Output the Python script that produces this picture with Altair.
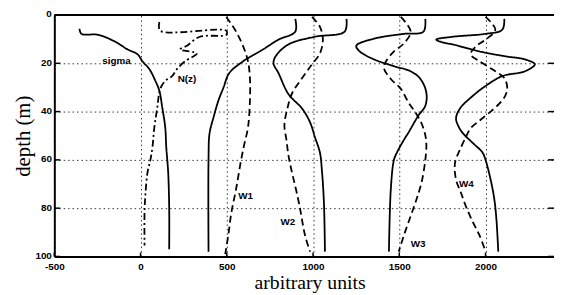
import altair as alt
import pandas as pd

# ---------------- data ----------------
sigma_x = [-354, -343, -246, -149, -74, -17, 11, 51, 86, 109, 126, 143, 149, 160, 166, 166]
sigma_d = [5.7, 7.8, 8.2, 11.0, 14.3, 16.3, 19.2, 22.4, 27.3, 31.4, 38.4, 46.5, 54.7, 65, 80, 97]

nz_x = [109, 114, 497, 497, 343, 269, 229, 326, 257, 211, 183, 143, 114, 97, 80, 69, 57, 40, 29, 23, 23]
nz_d = [2.9, 6.5, 6.5, 8.2, 9.0, 12.7, 14.3, 15.9, 19.2, 22.4, 25.3, 27.3, 30.6, 38.4, 46.5, 54.7, 60, 65.3, 73.5, 81.6, 95.5]

w1s_x = [897, 897, 800, 709, 594, 514, 480, 451, 423, 400, 394, 394]
w1s_d = [1.6, 6.9, 10.2, 14.3, 19.2, 24.1, 30.2, 35.5, 42.4, 49, 60, 98]
w1d_x = [497, 554, 600, 623, 634, 634, 623, 600, 583, 554, 526, 509, 491]
w1d_d = [0.8, 6.9, 13.9, 19.2, 26, 35.5, 46.5, 54, 60, 72, 82, 91, 99]

w2s_x = [1194, 1183, 1011, 857, 783, 771, 800, 857, 937, 983, 1011, 1040, 1051, 1063, 1069]
w2s_d = [1.6, 6.9, 9, 12.2, 17.1, 20, 24.1, 32.7, 38.8, 44.5, 50.6, 57, 64, 77.6, 98]
w2d_x = [994, 1040, 1057, 1040, 994, 937, 880, 851, 834, 846, 857, 874, 897, 920, 954, 983]
w2d_d = [0.8, 4.9, 10.2, 15.9, 20.4, 26.1, 32.2, 38.8, 45.7, 51.8, 58, 64, 71, 78.4, 91.4, 98]

w3s_x = [1651, 1640, 1526, 1354, 1251, 1269, 1354, 1469, 1566, 1623, 1657, 1651, 1611, 1554, 1526, 1486, 1469, 1451, 1440]
w3s_d = [1.6, 6.9, 7.8, 9.8, 12.7, 15, 18.4, 21.2, 23.3, 26.5, 32.2, 37.6, 41.6, 48.6, 51.8, 57, 60, 72, 98]
w3d_x = [1509, 1566, 1526, 1469, 1423, 1411, 1451, 1509, 1554, 1594, 1629, 1651, 1657, 1651, 1629, 1600, 1566, 1526, 1497]
w3d_d = [0.8, 6.9, 11.8, 15.1, 19.2, 22, 26.5, 30.6, 36.3, 40.4, 44.9, 49.8, 53.9, 60, 69.4, 76.3, 83.3, 91.4, 98]

w4s_x = [2109, 2097, 2000, 1811, 1714, 1754, 1811, 1966, 2114, 2229, 2286, 2229, 2097, 2000, 1926, 1851, 1829,
         1846, 1869, 1926, 1983, 2000, 2029, 2051, 2063, 2074]
w4s_d = [1.6, 6.1, 7.8, 9, 10.2, 11.4, 12.2, 15.1, 17.1, 18.4, 20.4, 23.3, 25.3, 29.4, 33.5, 38.8, 42.9,
         46.5, 49, 53, 57, 60, 68, 76.3, 84.5, 98]
w4d_x = [2000, 2057, 2000, 1943, 1914, 1966, 2057, 2109, 2126, 2114, 2080, 2023, 1966, 1914, 1886, 1851, 1823,
         1829, 1857, 1886, 1926, 1966, 1994]
w4d_d = [0.8, 6.1, 10.2, 13.1, 16.3, 19.2, 23.3, 26.1, 30.2, 33.5, 36.7, 40.4, 43.7, 46.9, 50.6, 55.9, 61.2,
         68.2, 73.5, 79.2, 85.7, 91.4, 96.7]

label_text = ["sigma", "N(z)", "W1", "W2", "W3", "W4"]
label_x = [-140, 269, 609, 854, 1609, 1889]
label_d = [19, 26.5, 75, 85.7, 95, 70]

x_ticks = [-500, 0, 500, 1000, 1500, 2000]
y_ticks = [0, 20, 40, 60, 80, 100]

# ---------------- build tables ----------------
curves = [
    ("sigma", "solid", sigma_x, sigma_d),
    ("N(z)", "dashdot", nz_x, nz_d),
    ("W1 solid", "solid", w1s_x, w1s_d),
    ("W1 dashed", "dashed", w1d_x, w1d_d),
    ("W2 solid", "solid", w2s_x, w2s_d),
    ("W2 dashed", "dashed", w2d_x, w2d_d),
    ("W3 solid", "solid", w3s_x, w3s_d),
    ("W3 dashed", "dashed", w3d_x, w3d_d),
    ("W4 solid", "solid", w4s_x, w4s_d),
    ("W4 dashed", "dashed", w4d_x, w4d_d),
]
rows = []
for name, style, xs_, ds_ in curves:
    for i, (xv, dv) in enumerate(zip(xs_, ds_)):
        rows.append({"curve": name, "style": style, "x": xv, "depth": dv, "i": i})
df = pd.DataFrame(rows)
labels_df = pd.DataFrame({"label": label_text, "x": label_x, "depth": label_d})
ytick_df = pd.DataFrame({"depth": y_ticks})
xtick_df = pd.DataFrame({"x": x_ticks})
top_df = pd.DataFrame({"depth": [0]})

W = 507
H = 245

xs = alt.Scale(domain=[-500, 2397], nice=False, zero=False)
ys = alt.Scale(domain=[0, 100], reverse=True, nice=False, zero=False)

x_axis = alt.Axis(
    values=x_ticks, title="arbitrary units", grid=True, gridDash=[1.5, 3], gridColor="#333",
    gridWidth=1, ticks=False, labelPadding=5, labelFont="Liberation Sans", labelFontWeight="bold",
    labelFontSize=10, labelColor="black", labelFlush=False, labelExpr="'' + datum.value",
    domainColor="black", domainWidth=2, titleFont="Liberation Serif", titleFontSize=20,
    titleFontWeight="normal", titleColor="black", titleX=259, titleY=33,
    titleBaseline="alphabetic", titleAlign="center",
)
y_axis = alt.Axis(
    values=y_ticks, title="depth (m)", grid=True, gridDash=[1.5, 3], gridColor="#333",
    gridWidth=1, ticks=False, labelPadding=3, labelFont="Liberation Sans", labelFontWeight="bold",
    labelFontSize=10, labelColor="black", labelFlush=False, labelOffset=-1,
    domainColor="black", domainWidth=2, titleFont="Liberation Serif", titleFontSize=21,
    titleFontWeight="normal", titleColor="black", titleX=-25, titleY=122.5, titleAngle=270,
    titleBaseline="alphabetic", titleAlign="center",
)

lines = alt.Chart(df).mark_line(color="black", strokeWidth=1.8, interpolate="catmull-rom").encode(
    x=alt.X("x:Q", scale=xs, axis=x_axis),
    y=alt.Y("depth:Q", scale=ys, axis=y_axis),
    detail="curve:N",
    strokeDash=alt.StrokeDash(
        "style:N",
        scale=alt.Scale(domain=["solid", "dashed", "dashdot"], range=[[1, 0], [7, 4], [7, 3, 2, 3]]),
        legend=None,
    ),
    order="i:Q",
)

texts = alt.Chart(labels_df).mark_text(
    font="Liberation Sans", fontWeight="bold", fontSize=10, color="black", align="center", baseline="middle"
).encode(x=alt.X("x:Q", scale=xs), y=alt.Y("depth:Q", scale=ys), text="label:N")

top_rule = alt.Chart(top_df).mark_rule(color="black", strokeWidth=2).encode(
    y=alt.Y("depth:Q", scale=ys), x=alt.value(0), x2=alt.value(W)
)
left_ticks = alt.Chart(ytick_df).mark_rule(color="black", strokeWidth=1.5).encode(
    y=alt.Y("depth:Q", scale=ys), x=alt.value(0), x2=alt.value(6)
)
right_ticks = alt.Chart(ytick_df).mark_rule(color="black", strokeWidth=1.5).encode(
    y=alt.Y("depth:Q", scale=ys), x=alt.value(W - 6), x2=alt.value(W)
)
bottom_ticks = alt.Chart(xtick_df).mark_rule(color="black", strokeWidth=1.5).encode(
    x=alt.X("x:Q", scale=xs), y=alt.value(H), y2=alt.value(H - 4)
)

chart = alt.layer(lines, texts, top_rule, left_ticks, right_ticks, bottom_ticks).properties(
    width=W, height=H,
    padding={"left": 47, "top": 5, "right": 0, "bottom": 37},
    autosize=alt.AutoSizeParams(type="none"),
    background="white",
).configure_view(stroke=None)

chart.save("out.html", embed_options={"renderer": "svg", "actions": False})
